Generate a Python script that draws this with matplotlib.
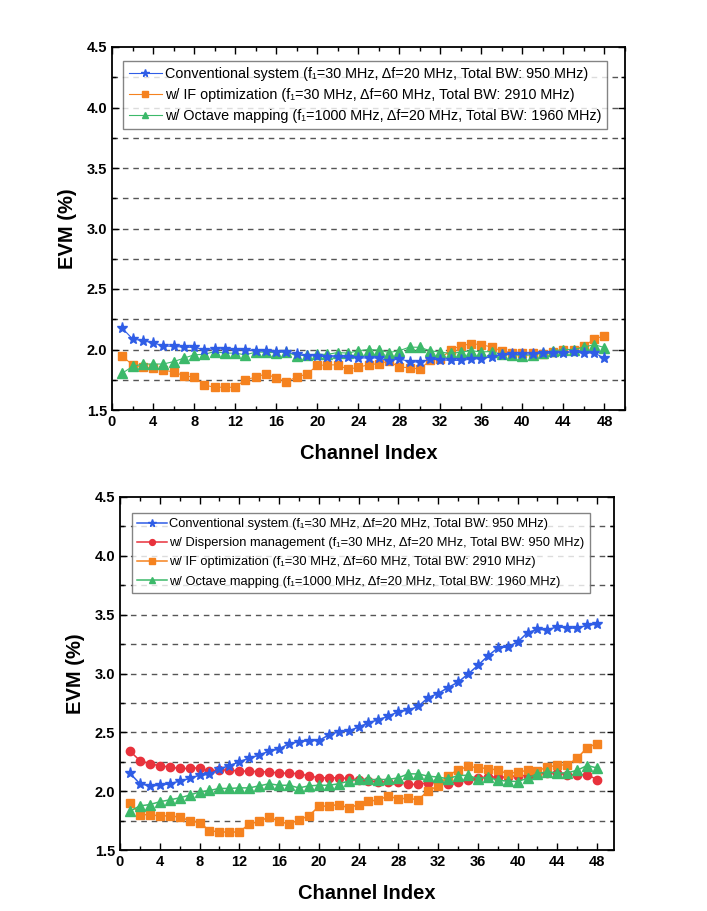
import matplotlib
matplotlib.use("Agg")
import matplotlib.pyplot as plt
from matplotlib.ticker import MultipleLocator, FormatStrFormatter

plt.rcParams['font.family'] = ['Liberation Sans', 'DejaVu Sans']

channels = list(range(1, 49))

# ---- top panel data ----
top_conv = [2.176, 2.088, 2.072, 2.055, 2.03, 2.025, 2.02, 2.017, 2.0, 2.005,
            2.003, 2.0, 1.995, 1.99, 1.985, 1.98, 1.98, 1.96, 1.95, 1.945,
            1.94, 1.94, 1.935, 1.93, 1.93, 1.93, 1.906, 1.923, 1.90, 1.895,
            1.92, 1.915, 1.91, 1.91, 1.92, 1.925, 1.94, 1.955, 1.96, 1.96,
            1.965, 1.97, 1.97, 1.975, 1.98, 1.97, 1.972, 1.928]
top_if = [1.945, 1.873, 1.854, 1.846, 1.832, 1.813, 1.785, 1.77, 1.708, 1.686,
          1.69, 1.686, 1.752, 1.77, 1.80, 1.763, 1.733, 1.774, 1.796, 1.868,
          1.873, 1.873, 1.835, 1.854, 1.873, 1.884, 1.904, 1.854, 1.85, 1.837,
          1.91, 1.92, 1.998, 2.03, 2.048, 2.04, 2.02, 1.988, 1.975, 1.975,
          1.975, 1.96, 1.978, 2.0, 2.0, 2.028, 2.086, 2.114]
top_oct = [1.804, 1.86, 1.88, 1.88, 1.88, 1.90, 1.928, 1.956, 1.96, 1.983,
           1.97, 1.97, 1.956, 1.978, 1.978, 1.972, 1.983, 1.945, 1.956, 1.96,
           1.96, 1.975, 1.97, 1.99, 2.0, 1.995, 1.975, 1.99, 2.02, 2.018,
           1.99, 1.978, 1.968, 1.978, 1.99, 1.98, 1.983, 1.96, 1.956, 1.95,
           1.956, 1.97, 1.99, 2.0, 2.0, 2.02, 2.04, 2.016]

# ---- bottom panel data ----
bot_conv = [2.153, 2.063, 2.045, 2.05, 2.063, 2.085, 2.108, 2.136, 2.142, 2.19,
            2.216, 2.25, 2.28, 2.307, 2.34, 2.358, 2.403, 2.42, 2.43, 2.43,
            2.477, 2.506, 2.51, 2.545, 2.58, 2.608, 2.636, 2.676, 2.688, 2.72,
            2.795, 2.83, 2.88, 2.926, 2.994, 3.068, 3.148, 3.216, 3.227, 3.267,
            3.347, 3.375, 3.37, 3.398, 3.386, 3.386, 3.41, 3.42]
bot_disp = [2.34, 2.26, 2.233, 2.216, 2.205, 2.193, 2.193, 2.2, 2.17, 2.18,
            2.18, 2.17, 2.17, 2.165, 2.165, 2.153, 2.153, 2.148, 2.13, 2.114,
            2.114, 2.114, 2.108, 2.095, 2.086, 2.08, 2.076, 2.076, 2.058, 2.058,
            2.072, 2.074, 2.064, 2.08, 2.093, 2.113, 2.12, 2.12, 2.12, 2.133,
            2.133, 2.144, 2.155, 2.155, 2.14, 2.14, 2.14, 2.098]
bot_if = [1.903, 1.80, 1.80, 1.79, 1.79, 1.78, 1.75, 1.733, 1.665, 1.653,
          1.653, 1.653, 1.72, 1.744, 1.78, 1.744, 1.72, 1.756, 1.79, 1.87,
          1.875, 1.886, 1.858, 1.886, 1.915, 1.925, 1.96, 1.932, 1.942, 1.925,
          2.005, 2.043, 2.133, 2.18, 2.21, 2.2, 2.192, 2.18, 2.148, 2.163,
          2.176, 2.173, 2.205, 2.22, 2.224, 2.28, 2.37, 2.405]
bot_oct = [1.83, 1.875, 1.886, 1.91, 1.926, 1.943, 1.966, 1.994, 2.006, 2.023,
           2.023, 2.028, 2.028, 2.045, 2.063, 2.05, 2.05, 2.028, 2.045, 2.05,
           2.05, 2.063, 2.085, 2.1, 2.1, 2.098, 2.1, 2.113, 2.147, 2.147,
           2.127, 2.12, 2.105, 2.133, 2.135, 2.105, 2.12, 2.093, 2.085, 2.082,
           2.11, 2.15, 2.164, 2.155, 2.155, 2.178, 2.218, 2.197]

lbl_conv = "Conventional system (f\u2081=30 MHz, \u0394f=20 MHz, Total BW: 950 MHz)"
lbl_disp = "w/ Dispersion management (f\u2081=30 MHz, \u0394f=20 MHz, Total BW: 950 MHz)"
lbl_if = "w/ IF optimization (f\u2081=30 MHz, \u0394f=60 MHz, Total BW: 2910 MHz)"
lbl_oct = "w/ Octave mapping (f\u2081=1000 MHz, \u0394f=20 MHz, Total BW: 1960 MHz)"

C_BLUE = '#2f5de6'
C_RED = '#e8323c'
C_ORANGE = '#f5821f'
C_GREEN = '#3cb96a'

W, H = 707, 911
fig = plt.figure(figsize=(W / 100, H / 100), dpi=100)

def px_axes(l, r, t, b):
    return fig.add_axes([l / W, 1 - b / H, (r - l) / W, (b - t) / H])

def style(ax, xmax):
    ax.set_xlim(0, xmax)
    ax.set_ylim(1.5, 4.5)
    ax.xaxis.set_major_locator(MultipleLocator(4))
    ax.xaxis.set_minor_locator(MultipleLocator(2))
    ax.yaxis.set_major_locator(MultipleLocator(0.5))
    ax.yaxis.set_minor_locator(MultipleLocator(0.25))
    ax.tick_params(which='both', direction='in', top=True, right=True, width=1.0)
    ax.tick_params(which='major', length=5, labelsize=10.5)
    ax.tick_params(which='minor', length=3)
    ax.yaxis.set_major_formatter(FormatStrFormatter('%.1f'))
    for lab in ax.get_xticklabels() + ax.get_yticklabels():
        lab.set_fontweight('bold')
    for s in ax.spines.values():
        s.set_linewidth(1.3)
    for yv in [1.75 + 0.25 * i for i in range(11)]:
        ax.axhline(yv, color='#555555', lw=1.0, ls=(0, (4, 3.5)), zorder=0)
    ax.set_xlabel('Channel Index', fontsize=14.5, fontweight='bold', labelpad=11)
    ax.set_ylabel('EVM (%)', fontsize=14.5, fontweight='bold', labelpad=7)

def style_legend(leg):
    leg.get_frame().set_edgecolor('#666666')
    leg.get_frame().set_linewidth(1.0)

# ---- top panel ----
ax1 = px_axes(112, 625, 47, 410)
ax1.plot(channels, top_conv, color=C_BLUE, marker='*', ms=8, lw=0.8, label=lbl_conv, zorder=3)
ax1.plot(channels, top_if, color=C_ORANGE, marker='s', ms=5.5, lw=0.8, label=lbl_if, zorder=2)
ax1.plot(channels, top_oct, color=C_GREEN, marker='^', ms=6.5, lw=0.8, label=lbl_oct, zorder=2.5)
style(ax1, 50)
leg1 = ax1.legend(loc='upper left', bbox_to_anchor=(0.021, 0.961), borderaxespad=0,
                  fontsize=10.4, handlelength=2.3, handletextpad=0.2, labelspacing=0.5,
                  borderpad=0.4, frameon=True, fancybox=False, markerscale=0.7)
style_legend(leg1)

# ---- bottom panel ----
ax2 = px_axes(120, 614, 497, 850)
ax2.plot(channels, bot_conv, color=C_BLUE, marker='*', ms=8, lw=1.1, label=lbl_conv, zorder=3)
ax2.plot(channels, bot_disp, color=C_RED, marker='o', ms=6, lw=1.1, label=lbl_disp, zorder=2)
ax2.plot(channels, bot_if, color=C_ORANGE, marker='s', ms=5.5, lw=1.1, label=lbl_if, zorder=2)
ax2.plot(channels, bot_oct, color=C_GREEN, marker='^', ms=6.5, lw=1.1, label=lbl_oct, zorder=2.5)
style(ax2, 49.7)
leg2 = ax2.legend(loc='upper left', bbox_to_anchor=(0.024, 0.955), borderaxespad=0,
                  fontsize=9.3, handlelength=2.3, handletextpad=0.2, labelspacing=0.55,
                  borderpad=0.4, frameon=True, fancybox=False, markerscale=0.7)
style_legend(leg2)

fig.savefig('out.png', dpi=100)
